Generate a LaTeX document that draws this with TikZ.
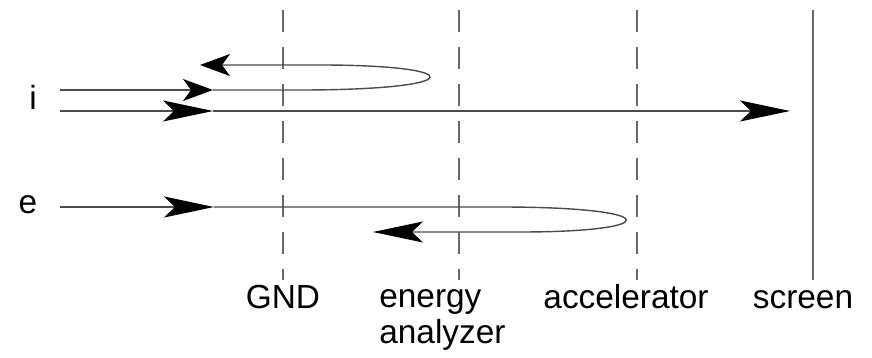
\documentclass[tikz,border=0pt]{standalone}
\usepackage{fontspec}
\setmainfont{Liberation Sans}
\usetikzlibrary{positioning, arrows.meta}
\definecolor{beamgray}{RGB}{75,75,75}
\definecolor{plategray}{RGB}{105,105,105}

\tikzset{
  beam/.style={draw=beamgray, line width=0.8pt},
  shorttip/.style={-{Stealth[length=0.6cm, width=0.44cm, inset=0.16cm, color=black]}},
  longtip/.style={-{Stealth[length=1.0cm, width=0.42cm, inset=0.22cm, color=black]}},
  plate/.style={draw=plategray, line width=0.8pt, dash pattern=on 0.44cm off 0.3cm},
  lbl/.style={font=\fontsize{19}{20}\selectfont, inner sep=0pt}
}

\begin{document}
\begin{tikzpicture}[x=0.02cm, y=-0.02cm]
        \useasboundingbox (0,0) rectangle (872,358);
        \coordinate (gndtop) at (283,10);
        \coordinate (gndbot) at (283,280);
        \coordinate (anatop) at (459,10);
        \coordinate (anabot) at (459,280);
        \coordinate (acctop) at (637,10);
        \coordinate (accbot) at (637,280);
        \coordinate (scrtop) at (813,10);
        \coordinate (scrbot) at (813,280);
        \draw[plate] (gndtop) -- (gndbot);
        \draw[plate] (anatop) -- (anabot);
        \draw[plate] (acctop) -- (accbot);
        \draw[draw=plategray, line width=0.8pt] (scrtop) -- (scrbot);
        \node[lbl, anchor=base] (gnd) at (283,308) {GND};
        \node[lbl, anchor=base west, align=left] (ana) at (379,343) {energy\\analyzer};
        \node[lbl, anchor=base] (acc) at (626,308) {accelerator};
        \node[lbl, anchor=base] (scr) at (803,308) {screen};
        \node[lbl, anchor=base] (ion) at (33,110) {i};
        \node[lbl, anchor=base] (ele) at (28,213) {e};
        \coordinate (iain) at (60,90);
        \coordinate (iamid) at (213,90);
        \coordinate (iaturn) at (300,90);
        \coordinate (iaback) at (320,65);
        \coordinate (iaend) at (200,65);
        \draw[beam, shorttip] (iain) -- (iamid);
        \draw[beam, shorttip] (iamid) -- (iaturn) .. controls (470,90) and (470,65) .. (iaback) -- (iaend);
        \coordinate (ibin) at (60,111);
        \coordinate (ibmid) at (213,111);
        \coordinate (ibend) at (790,111);
        \draw[beam, longtip] (ibin) -- (ibmid);
        \draw[beam, longtip] (ibmid) -- (ibend);
        \coordinate (ein) at (60,207);
        \coordinate (emid) at (214,207);
        \coordinate (eturn) at (500,207);
        \coordinate (eback) at (520,232);
        \coordinate (eend) at (373,232);
        \draw[beam, longtip] (ein) -- (emid);
        \draw[beam, longtip] (emid) -- (eturn) .. controls (665,207) and (665,232) .. (eback) -- (eend);
\end{tikzpicture}
\end{document}
